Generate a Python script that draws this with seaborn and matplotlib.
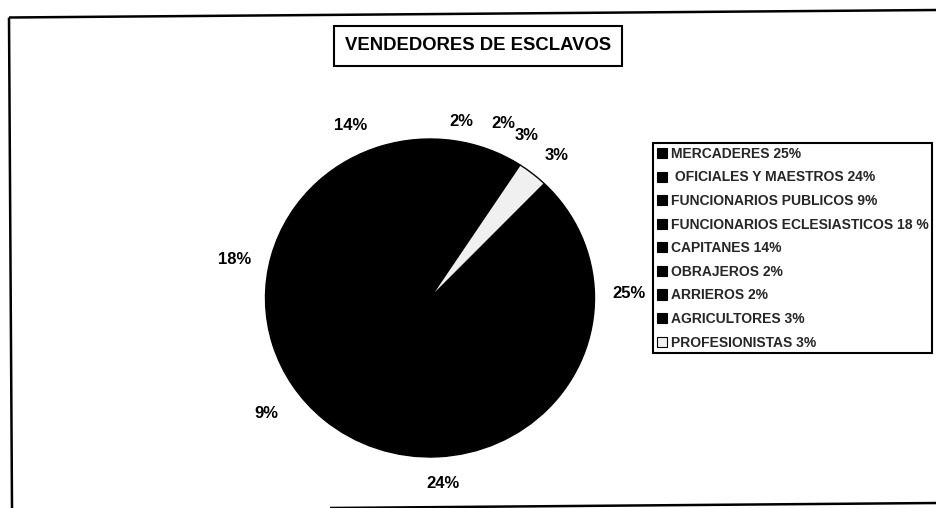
import matplotlib
matplotlib.use("Agg")
import matplotlib.pyplot as plt
from matplotlib.patches import Patch
import seaborn as sns

# --- data -------------------------------------------------------------
categories = ["MERCADERES", "OFICIALES Y MAESTROS", "FUNCIONARIOS PUBLICOS",
              "FUNCIONARIOS ECLESIASTICOS", "CAPITANES", "OBRAJEROS",
              "ARRIEROS", "AGRICULTORES", "PROFESIONISTAS"]
shares = [25, 24, 9, 18, 14, 2, 2, 3, 3]
legend_labels = ["MERCADERES 25%", " OFICIALES Y MAESTROS 24%",
                 "FUNCIONARIOS PUBLICOS 9%", "FUNCIONARIOS ECLESIASTICOS 18 %",
                 "CAPITANES 14%", "OBRAJEROS 2%", "ARRIEROS 2%",
                 "AGRICULTORES 3%", "PROFESIONISTAS 3%"]
title = "VENDEDORES DE ESCLAVOS"

# --- style ------------------------------------------------------------
sns.set_theme(style="white")
plt.rcParams["font.family"] = ["Liberation Sans", "DejaVu Sans"]

slice_colors = ["#000000"] * 8 + ["#f0f0f0"]

W, H = 937, 508
fig = plt.figure(figsize=(W / 100, H / 100), dpi=100)
fig.patch.set_facecolor("white")

# pie axes (pixel-based placement of the circle)
cx, cy, rx, ry, span = 430, 298, 164.5, 159, 1.2
ax = fig.add_axes([(cx - span * rx) / W, (H - cy - span * ry) / H,
                   2 * span * rx / W, 2 * span * ry / H])
ax.pie(shares, colors=slice_colors, startangle=46, counterclock=False,
       wedgeprops=dict(edgecolor="black", linewidth=1.0))
ax.set_aspect("auto")
ax.set_xlim(-span, span)
ax.set_ylim(-span, span)
ax.axis("off")

# overlay in pixel coordinates for labels, title and frame
ov = fig.add_axes([0, 0, 1, 1], zorder=5)
ov.set_xlim(0, W)
ov.set_ylim(H, 0)
ov.axis("off")
ov.patch.set_alpha(0)

# percentage labels around the pie
label_xy = [(629, 294), (443, 483), (266, 413), (235, 260), (351, 125),
            (461, 122), (503, 123), (527, 135), (557, 155)]
for v, (x, y) in zip(shares, label_xy):
    ov.text(x, y, f"{v}%", ha="center", va="center", fontsize=12,
            fontweight="bold", color="black")

# title box
ov.text(345, 46, title, ha="left", va="center", fontsize=13.3,
        fontweight="bold", color="black",
        bbox=dict(boxstyle="square,pad=0.6", fc="white", ec="black", lw=1.5))

# legend
handles = [Patch(facecolor=c, edgecolor="black", linewidth=0.8) for c in slice_colors]
leg = ov.legend(handles, legend_labels, loc="upper left",
                bbox_to_anchor=(653, 143), bbox_transform=ov.transData,
                prop=dict(family="Liberation Sans", weight="bold", size=10),
                frameon=True, fancybox=False, framealpha=1, edgecolor="black",
                borderpad=0.28, labelspacing=0.69, handlelength=0.75,
                handleheight=0.75, handletextpad=0.25, borderaxespad=0)
leg.get_frame().set_linewidth(1.5)

# outer chart frame
frame_kw = dict(color="black", lw=1.8, clip_on=False, solid_capstyle="butt")
ov.plot([9, 937], [17.5, 10], **frame_kw)
ov.plot([9, 12], [17.5, 508], **frame_kw)
ov.plot([330, 937], [508, 503], **frame_kw)

fig.savefig("out.png", dpi=100)
